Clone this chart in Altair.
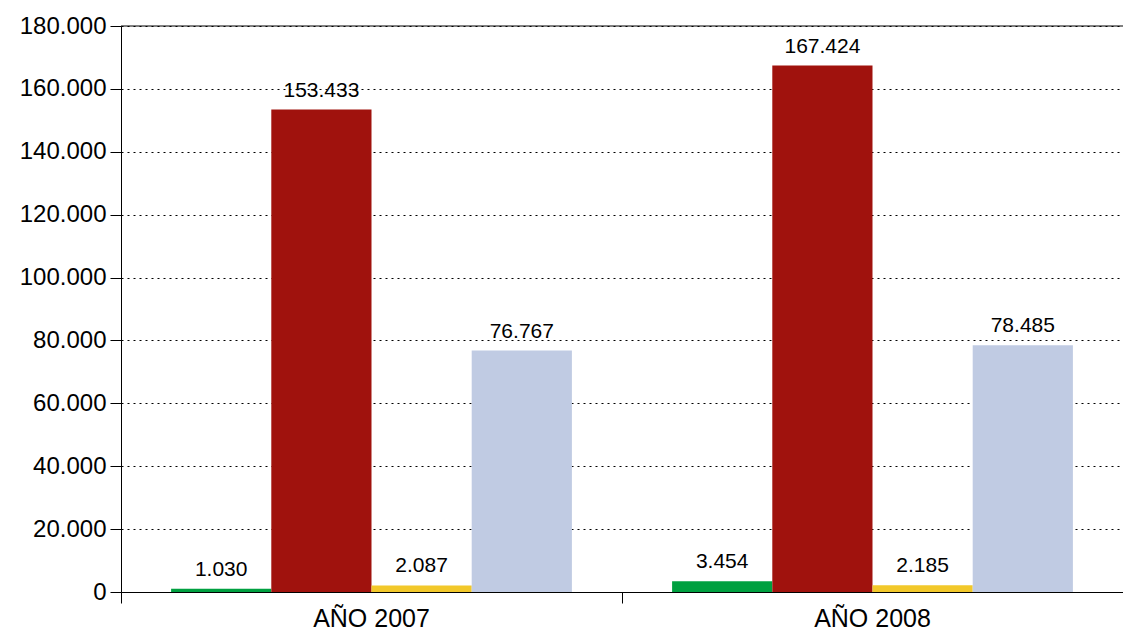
import altair as alt
import pandas as pd

years = ["AÑO 2007", "AÑO 2008"]
series = ["Serie 1", "Serie 2", "Serie 3", "Serie 4"]
values_2007 = [1030, 153433, 2087, 76767]
values_2008 = [3454, 167424, 2185, 78485]
colors = ["#00A040", "#A0120D", "#F2C82A", "#C0CBE3"]
y_ticks = [0, 20000, 40000, 60000, 80000, 100000, 120000, 140000, 160000, 180000]

rows = []
for year, vals in zip(years, [values_2007, values_2008]):
    for s, v in zip(series, vals):
        rows.append({"year": year, "series": s, "value": v})
df = pd.DataFrame(rows)

fmt = "replace(format({v}, ','), ',', '.')"

x_enc = alt.X(
    "year:N", title=None, sort=years,
    scale=alt.Scale(paddingInner=0, paddingOuter=0),
    axis=alt.Axis(bandPosition=0, tickSize=11, tickColor="black", domainColor="black",
                  labelFontSize=25, labelPadding=3, labelAngle=0, grid=False,
                  labelColor="black"),
)
xo_enc = alt.XOffset("series:N", sort=series, scale=alt.Scale(paddingInner=0, paddingOuter=0.5))
y_enc = alt.Y(
    "value:Q", title=None,
    scale=alt.Scale(domain=[0, 180000], nice=False),
    axis=alt.Axis(values=y_ticks, labelExpr=fmt.format(v="datum.value"), tickSize=11,
                  tickColor="black", domainColor="black", grid=True, gridColor="black",
                  gridDash=[2, 4], gridWidth=1, gridOpacity=1, labelFontSize=24,
                  labelPadding=4, labelColor="black"),
)

base = alt.Chart(df).encode(x=x_enc, xOffset=xo_enc)

bars = base.mark_bar().encode(
    y=y_enc,
    color=alt.Color("series:N", sort=series, scale=alt.Scale(domain=series, range=colors), legend=None),
)

labels = base.transform_calculate(
    label=fmt.format(v="datum.value")
).mark_text(baseline="bottom", dy=-9, fontSize=21, color="black", font="Liberation Sans").encode(
    y=alt.Y("value:Q", scale=alt.Scale(domain=[0, 180000], nice=False)),
    text="label:N",
)

top_rule = alt.Chart(pd.DataFrame({"top": [180000]})).mark_rule(color="black", strokeWidth=1).encode(
    y=alt.Y("top:Q", scale=alt.Scale(domain=[0, 180000], nice=False))
)

chart = alt.layer(bars, labels, top_rule).properties(
    width=1002, height=566,
    autosize=alt.AutoSizeParams(type="none"),
    padding={"left": 113, "top": 18, "right": 0, "bottom": 40},
).configure_view(stroke=None).configure_axis(labelFont="Liberation Sans")

chart.save("out.html", embed_options={"renderer": "svg", "actions": False})
